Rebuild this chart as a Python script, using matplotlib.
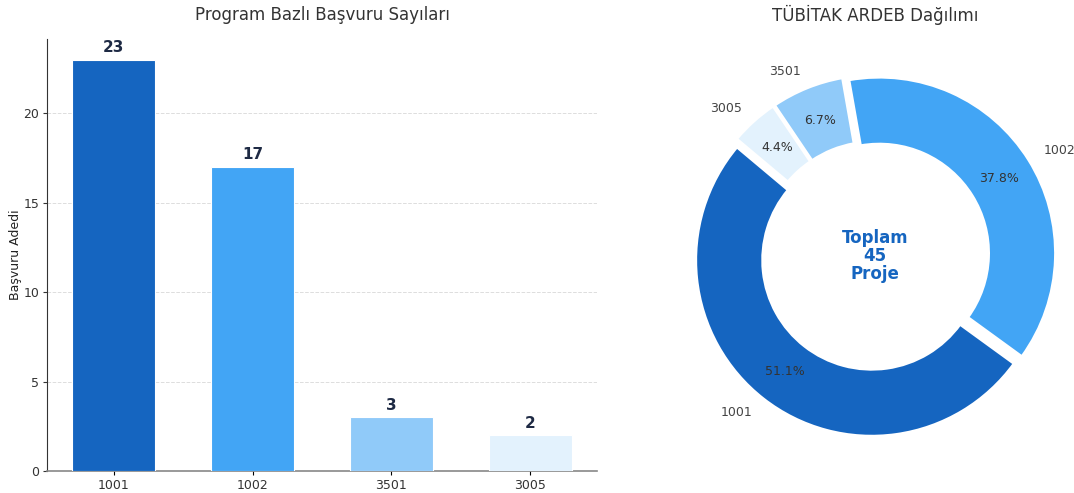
import matplotlib
matplotlib.use("Agg")
import matplotlib.pyplot as plt

programs = ["1001", "1002", "3501", "3005"]
counts = [23, 17, 3, 2]
colors = ["#1565C0", "#42A5F5", "#90CAF9", "#E3F2FD"]
bar_title = "Program Bazlı Başvuru Sayıları"
pie_title = "TÜBİTAK ARDEB Dağılımı"
y_label = "Başvuru Adedi"
center_text = "Toplam\n45\nProje"

plt.rcParams['font.family'] = ['DejaVu Sans']

fig = plt.figure(figsize=(10.74, 4.93), dpi=100)

# Bar chart
ax = fig.add_axes([47/1074, 22/493, 550/1074, 432/493])
x = range(len(programs))
bars = ax.bar(x, counts, width=0.6, color=colors, edgecolor="white", linewidth=0.8, zorder=3)
ax.set_xticks(list(x))
ax.set_xticklabels(programs, fontsize=9, color="#333333")
ax.tick_params(axis="y", labelsize=9, colors="#333333", length=3, pad=2.5)
ax.tick_params(axis="x", length=3, pad=3)
ax.set_ylim(0, max(counts) * 1.05)
ax.set_yticks([0, 5, 10, 15, 20])
ax.set_ylabel(y_label, fontsize=9, color="#222222", labelpad=1)
ax.grid(axis="y", linestyle="--", color="#dddddd", linewidth=0.7, zorder=0)
ax.set_axisbelow(True)
for s in ["top", "right"]:
    ax.spines[s].set_visible(False)
ax.spines["left"].set_color("#333333")
ax.spines["left"].set_linewidth(0.8)
ax.spines["bottom"].set_color("#888888")
ax.spines["bottom"].set_linewidth(1.2)
for b, v in zip(bars, counts):
    ax.text(b.get_x() + b.get_width() / 2, v + 0.25, str(v), ha="center", va="bottom",
            fontsize=11, fontweight="bold", color="#1e2a44")
ax.set_title(bar_title, fontsize=12, color="#333333", pad=14)

# Donut chart
R = 176
axp = fig.add_axes([(875 - 1.25 * R) / 1074, (237 - 1.25 * R) / 493, 2.5 * R / 1074, 2.5 * R / 493])
wedges, texts, autotexts = axp.pie(
    counts, labels=programs, colors=colors, startangle=140, counterclock=True,
    explode=[0.03] * 4, autopct="%1.1f%%", pctdistance=0.8, labeldistance=1.1,
    wedgeprops=dict(width=0.38, edgecolor="white", linewidth=2),
    textprops=dict(fontsize=9, color="#444444"))
for t in autotexts:
    t.set_color("#333333")
    t.set_fontsize(9)
axp.text(0, 0, center_text, ha="center", va="center", fontsize=12,
         fontweight="bold", color="#1565C0", linespacing=1.0)
axp.set_aspect("equal")
fig.text(875 / 1074, 1 - 15 / 493, pie_title, ha="center", va="center", fontsize=12, color="#333333")

fig.savefig("out.png", dpi=100)
